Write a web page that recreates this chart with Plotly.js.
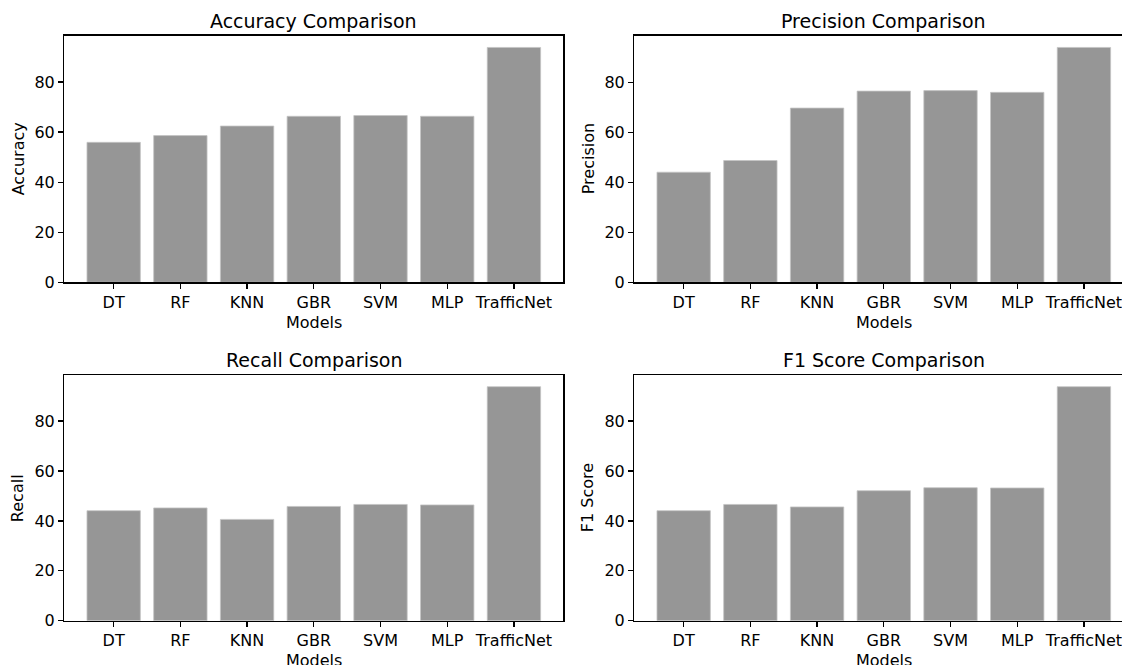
<!DOCTYPE html>
<html>
<head>
<meta charset="utf-8">
<script src="https://cdn.plot.ly/plotly-3.0.1.min.js"></script>
<style>html,body{margin:0;padding:0;background:#fff;}#chart{width:1122px;height:665px;}</style>
</head>
<body>
<div id="chart"></div>
<script>
const models = ['DT', 'RF', 'KNN', 'GBR', 'SVM', 'MLP', 'TrafficNet'];
const accuracy = [55.9, 58.6, 62.4, 66.3, 66.6, 66.3, 93.8];
const precision = [44.1, 48.8, 69.8, 76.6, 76.8, 76.1, 94.1];
const recall = [44.1, 45.2, 40.6, 45.8, 46.6, 46.4, 93.8];
const f1Score = [44.1, 46.6, 45.6, 52.1, 53.3, 53.2, 93.8];
const yTicks = [0, 20, 40, 60, 80];

const W = 1122, H = 665;
const px = v => v / W;
const py = v => 1 - v / H;

const panels = [
  {vals: accuracy, title: 'Accuracy Comparison', ylab: 'Accuracy', x0: 64.3, x1: 563.3, top: 35.7, bot: 282.3},
  {vals: precision, title: 'Precision Comparison', ylab: 'Precision', x0: 634.3, x1: 1133.3, top: 35.7, bot: 282.3},
  {vals: recall, title: 'Recall Comparison', ylab: 'Recall', x0: 64.3, x1: 563.3, top: 375, bot: 620.7},
  {vals: f1Score, title: 'F1 Score Comparison', ylab: 'F1 Score', x0: 634.3, x1: 1133.3, top: 375, bot: 620.7}
];

const FONT = 'DejaVu Sans, sans-serif';
const traces = [];
const layout = {
  width: W, height: H,
  margin: {l: 0, r: 0, t: 0, b: 0},
  paper_bgcolor: '#fff', plot_bgcolor: '#fff',
  showlegend: false,
  font: {family: FONT, size: 16, color: '#000'},
  annotations: []
};

panels.forEach((p, i) => {
  const n = i + 1;
  const xa = n === 1 ? 'xaxis' : 'xaxis' + n;
  const ya = n === 1 ? 'yaxis' : 'yaxis' + n;
  traces.push({
    type: 'bar', x: models, y: p.vals,
    xaxis: 'x' + (n === 1 ? '' : n), yaxis: 'y' + (n === 1 ? '' : n),
    width: 0.8,
    marker: {color: '#969696', line: {color: '#c4c4c4', width: 0.8}},
    hoverinfo: 'x+y'
  });
  const fullSpan = p.x1 - p.x0;
  const clippedX1 = Math.min(p.x1, W);
  const lo = -0.74, hi = 6.74;
  const visHi = lo + (hi - lo) * (clippedX1 - p.x0) / fullSpan;
  const cut = p.x1 > W;
  layout[xa] = {
    domain: [px(p.x0), px(clippedX1)],
    range: [lo, visHi],
    type: 'category',
    anchor: 'y' + (n === 1 ? '' : n),
    showgrid: false, zeroline: false,
    showline: true, linecolor: '#000', linewidth: 1.3, mirror: true,
    ticks: 'outside', ticklen: 5, tickwidth: 1.3, tickcolor: '#000',
    tickfont: {family: FONT, size: 16, color: '#000'},
    fixedrange: true
  };
  const ymax = Math.max(...p.vals) * 1.05;
  layout[ya] = {
    domain: [py(p.bot), py(p.top)],
    range: [0, ymax],
    anchor: 'x' + (n === 1 ? '' : n),
    tickvals: yTicks, ticktext: yTicks.map(String),
    showgrid: false, zeroline: false,
    showline: true, linecolor: '#000', linewidth: 1.3, mirror: !cut,
    ticks: 'outside', ticklen: 5, tickwidth: 1.3, tickcolor: '#000',
    tickfont: {family: FONT, size: 16, color: '#000'},
    fixedrange: true
  };
  const cx = (p.x0 + p.x1) / 2;
  layout.annotations.push({
    text: p.title, xref: 'paper', yref: 'paper', x: px(cx), y: py(p.top - 15),
    xanchor: 'center', yanchor: 'middle', showarrow: false,
    font: {family: FONT, size: 19, color: '#000'}
  });
  layout.annotations.push({
    text: 'Models', xref: 'paper', yref: 'paper', x: px(cx), y: py(p.bot + 40),
    xanchor: 'center', yanchor: 'middle', showarrow: false,
    font: {family: FONT, size: 16, color: '#000'}
  });
  layout.annotations.push({
    text: p.ylab, xref: 'paper', yref: 'paper', x: px(p.x0 - 46), y: py((p.top + p.bot) / 2),
    xanchor: 'center', yanchor: 'middle', textangle: -90, showarrow: false,
    font: {family: FONT, size: 16, color: '#000'}
  });
});

Plotly.newPlot('chart', traces, layout, {displayModeBar: false, staticPlot: true});
</script>
</body>
</html>
